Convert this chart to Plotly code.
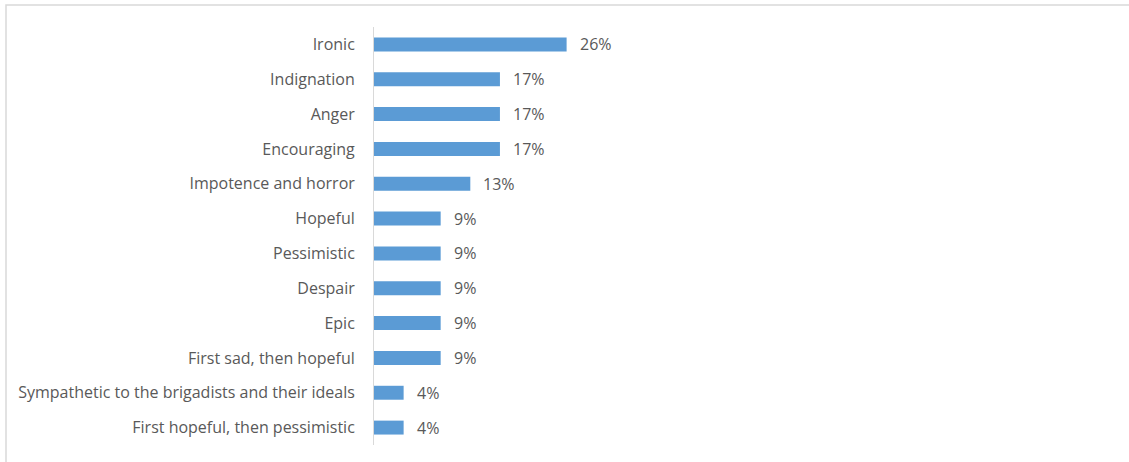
import plotly.graph_objects as go

categories = [
    "Ironic",
    "Indignation",
    "Anger",
    "Encouraging",
    "Impotence and horror",
    "Hopeful",
    "Pessimistic",
    "Despair",
    "Epic",
    "First sad, then hopeful",
    "Sympathetic to the brigadists and their ideals",
    "First hopeful, then pessimistic",
]
values = [26, 17, 17, 17, 13, 9, 9, 9, 9, 9, 4, 4]
value_labels = [f"{v}%" for v in values]

W, H = 1129, 462
ML, MR, MT, MB = 374, 29, 27, 17
plot_w = W - ML - MR
plot_h = H - MT - MB

FONT = "Open Sans, Liberation Sans, Arial, sans-serif"
TEXT_COLOR = "#595959"

fig = go.Figure(
    go.Bar(
        x=values,
        y=categories,
        orientation="h",
        marker=dict(color="#5b9bd5", line=dict(width=0)),
        hoverinfo="skip",
    )
)

for cat, v, lab in zip(categories, values, value_labels):
    fig.add_annotation(
        x=v, y=cat, text=lab, showarrow=False,
        xanchor="left", xshift=11,
        font=dict(family=FONT, size=16, color=TEXT_COLOR),
    )

# chart frame
fig.add_shape(
    type="rect", xref="paper", yref="paper",
    x0=(6 - ML) / plot_w, x1=1.2,
    y0=-0.2, y1=(H - MB - 5) / plot_h,
    line=dict(color="#d9d9d9", width=1.5), fillcolor="rgba(0,0,0,0)",
    layer="below",
)

fig.update_layout(
    width=W, height=H,
    margin=dict(l=ML, r=MR, t=MT, b=MB),
    plot_bgcolor="white", paper_bgcolor="white",
    bargap=0.6,
    showlegend=False,
    font=dict(family=FONT, size=16, color=TEXT_COLOR),
)
fig.update_xaxes(
    range=[0, 98], visible=False, showgrid=False, zeroline=False,
)
fig.update_yaxes(
    categoryorder="array", categoryarray=categories[::-1],
    showline=True, linecolor="#d9d9d9", linewidth=1,
    showgrid=False, zeroline=False, ticks="",
    ticklabelstandoff=15,
    tickfont=dict(family=FONT, size=16, color=TEXT_COLOR),
)

fig.write_html("out.html", config={"displayModeBar": False})
